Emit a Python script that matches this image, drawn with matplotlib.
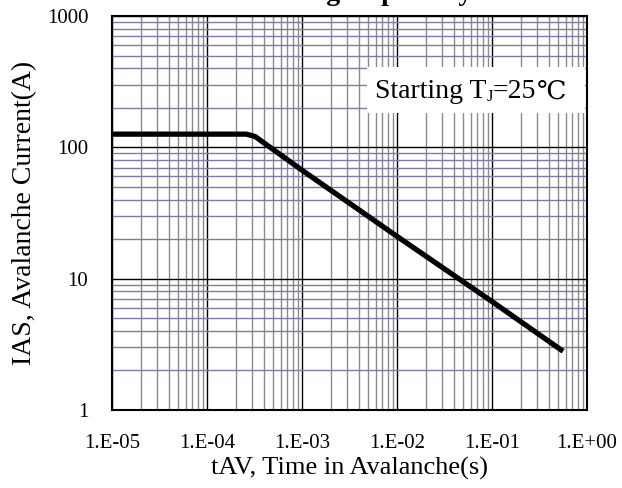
import matplotlib
matplotlib.use("Agg")
import matplotlib.pyplot as plt
from matplotlib.ticker import LogLocator
from matplotlib.patches import Rectangle

plt.rcParams['font.family'] = ['Liberation Serif', 'DejaVu Sans', 'Noto Sans CJK SC']

# avalanche time (s) vs avalanche current (A)
t_av = [1e-5, 1e-4, 2.6e-4, 3.2e-4, 1e-3, 1e-2, 1e-1, 0.56]
i_as = [126, 126, 126, 121, 67, 21, 6.7, 2.8]

x_ticks = [1e-5, 1e-4, 1e-3, 1e-2, 1e-1, 1e0]
x_labels = ["1.E-05", "1.E-04", "1.E-03", "1.E-02", "1.E-01", "1.E+00"]
y_ticks = [1, 10, 100, 1000]
y_labels = ["1", "10", "100", "1000"]

fig = plt.figure(figsize=(6.22, 4.88), dpi=100)
ax = fig.add_axes([112 / 622, 1 - 410 / 488, 475 / 622, 394 / 488])
ax.set_xscale("log")
ax.set_yscale("log")
ax.set_xlim(1e-5, 1)
ax.set_ylim(1, 1000)

# grid: gray verticals, bluish horizontals, black at decades
ax.xaxis.set_minor_locator(LogLocator(base=10, subs=range(2, 10), numticks=20))
ax.yaxis.set_minor_locator(LogLocator(base=10, subs=range(2, 10), numticks=20))
ax.grid(which="minor", axis="x", color="#8a8a8a", lw=1.0)
ax.grid(which="minor", axis="y", color="#7c7caa", lw=1.0)
ax.grid(which="major", axis="both", color="black", lw=1.0)
ax.set_axisbelow(True)

ax.set_xticks(x_ticks)
ax.set_xticklabels(x_labels)
ax.set_yticks(y_ticks)
ax.set_yticklabels(y_labels)
ax.tick_params(which="both", length=0)
ax.tick_params(axis="x", pad=17, labelsize=15)
ax.tick_params(axis="y", pad=17, labelsize=15)

for s in ax.spines.values():
    s.set_color("black")
    s.set_linewidth(1.5)

ax.plot(t_av, i_as, color="black", lw=3.8, solid_capstyle="butt", zorder=5)

# white box behind the annotation
ax.add_patch(Rectangle((0.537, 0.754), 0.459, 0.117, transform=ax.transAxes,
                       facecolor="white", edgecolor="none", zorder=6))
t1 = ax.text(0.554, 0.792, "Starting T", transform=ax.transAxes,
             ha="left", va="baseline", fontsize=20, zorder=7)
t2 = ax.annotate("J", xy=(1, 0), xycoords=t1, xytext=(0, -1),
                 textcoords="offset points", ha="left", va="bottom",
                 fontsize=12, zorder=7)
t3 = ax.annotate("=25", xy=(1, 0), xycoords=(t2, t1), ha="left", va="bottom",
                 fontsize=20, zorder=7)
ax.annotate("℃", xy=(1, 0), xycoords=t3, ha="left", va="bottom",
            fontsize=19, family=["DejaVu Serif", "DejaVu Sans"], zorder=7)

ax.set_xlabel("tAV, Time in Avalanche(s)", fontsize=19, labelpad=3)
ax.set_ylabel("IAS, Avalanche Current(A)", fontsize=20, labelpad=7)

# title mostly cut off by the top edge in the reference
fig.text(472 / 622, 1.0, "Avalanche Rating Capability", ha="right", va="baseline",
         fontsize=20, fontweight="bold")

fig.savefig("out.png", dpi=100)
